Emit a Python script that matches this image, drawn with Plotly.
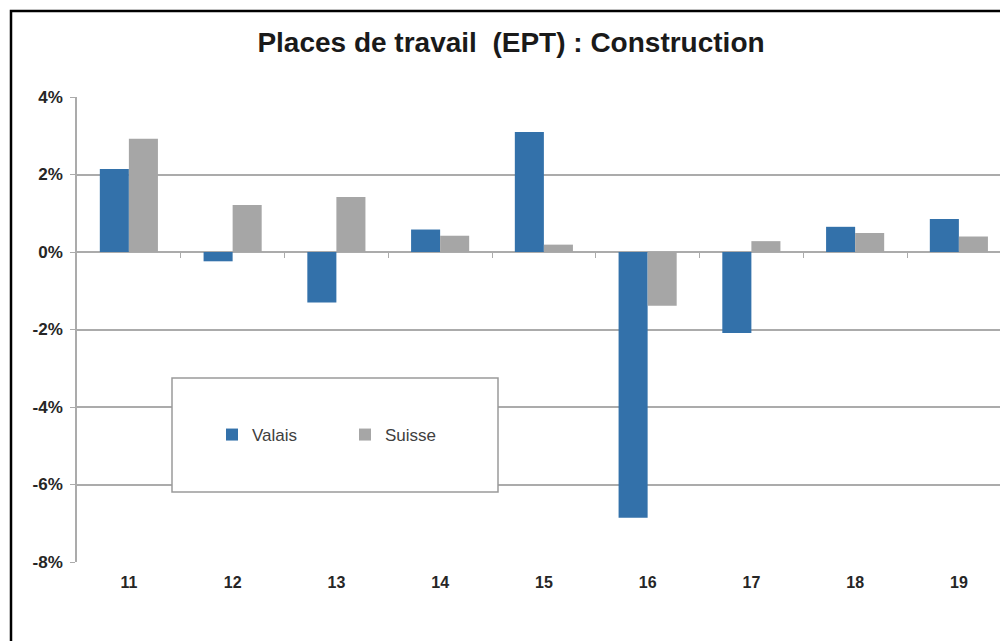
import plotly.graph_objects as go

# ---------- Data ----------
categories = ["11", "12", "13", "14", "15", "16", "17", "18", "19"]
valais = [2.14, -0.24, -1.30, 0.58, 3.10, -6.86, -2.09, 0.65, 0.85]
suisse = [2.92, 1.21, 1.42, 0.42, 0.19, -1.39, 0.28, 0.49, 0.40]
y_ticks = [4, 2, 0, -2, -4, -6, -8]

BLUE = "#3371AA"
GREY = "#A6A6A6"
GRID = "#ABABAB"
FONT = "Liberation Sans, Arial, sans-serif"

# ---------- Layout geometry (pixels) ----------
W, H = 1000, 641
L, R, T, B = 77, 0, 97, 79
plot_w, plot_h = W - L - R, H - T - B
cat_w = 103.75
x_end = -0.5 + plot_w / cat_w


def px_x(p):
    return (p - L) / plot_w


def px_y(p):
    return (H - B - p) / plot_h


fig = go.Figure()

fig.add_trace(go.Bar(x=categories, y=valais, name="Valais", marker=dict(color=BLUE, line=dict(width=0))))
fig.add_trace(go.Bar(x=categories, y=suisse, name="Suisse", marker=dict(color=GREY, line=dict(width=0))))

# empty trace so the tick axis on the zero line is drawn
fig.add_trace(go.Scatter(x=[None], y=[None], xaxis="x2", showlegend=False, hoverinfo="skip"))

boundaries = [i + 0.5 for i in range(len(categories) - 1)]

fig.update_layout(
    width=W, height=H,
    margin=dict(l=L, r=R, t=T, b=B),
    paper_bgcolor="white", plot_bgcolor="white",
    barmode="group", bargap=0.44, bargroupgap=0,
    font=dict(family=FONT, color="#262626"),
    title=dict(
        text="<b>Places de travail  (EPT) : Construction</b>",
        x=0.511, xref="container", xanchor="center",
        y=1 - 42 / H, yref="container", yanchor="middle",
        font=dict(size=28, family=FONT, color="#1a1a1a"),
    ),
    xaxis=dict(
        type="category", range=[-0.5, x_end],
        showgrid=False, zeroline=False, showline=False, ticks="",
        tickfont=dict(size=16, family=FONT, color="#262626", weight="bold"),
        ticklabelstandoff=9,
    ),
    xaxis2=dict(
        overlaying="x", anchor="free", position=px_y(252),
        range=[-0.5, x_end], tickvals=boundaries,
        ticks="outside", ticklen=5, tickwidth=1, tickcolor=GRID,
        showticklabels=False, showgrid=False, zeroline=False, showline=False,
    ),
    yaxis=dict(
        range=[-8, 4], tickvals=y_ticks, ticktext=[f"{v}%" for v in y_ticks],
        showgrid=True, gridcolor=GRID, gridwidth=1.5,
        zeroline=True, zerolinecolor=GRID, zerolinewidth=1.5,
        showline=True, linecolor=GRID, linewidth=1.5,
        ticks="outside", ticklen=5, tickcolor=GRID,
        tickfont=dict(size=17, family=FONT, color="#262626", weight="bold"),
        ticklabelstandoff=4,
    ),
    legend=dict(
        orientation="h", x=px_x(212), xanchor="left", y=px_y(435), yanchor="middle",
        bgcolor="rgba(0,0,0,0)", borderwidth=0,
        font=dict(size=17, family=FONT, color="#404040"),
        entrywidth=88, itemwidth=30,
    ),
    shapes=[
        # legend box
        dict(type="rect", xref="paper", yref="paper",
             x0=px_x(172), x1=px_x(498), y0=px_y(492), y1=px_y(378),
             fillcolor="white", line=dict(color="#9A9A9A", width=1.5), layer="above"),
        # outer frame
        dict(type="rect", xref="paper", yref="paper",
             x0=px_x(11), x1=px_x(1010), y0=px_y(650), y1=px_y(11),
             fillcolor="rgba(0,0,0,0)", line=dict(color="black", width=2.5), layer="above"),
    ],
)

fig.write_html("out.html", config={"displayModeBar": False},
               post_script="document.body.style.margin='0';")
